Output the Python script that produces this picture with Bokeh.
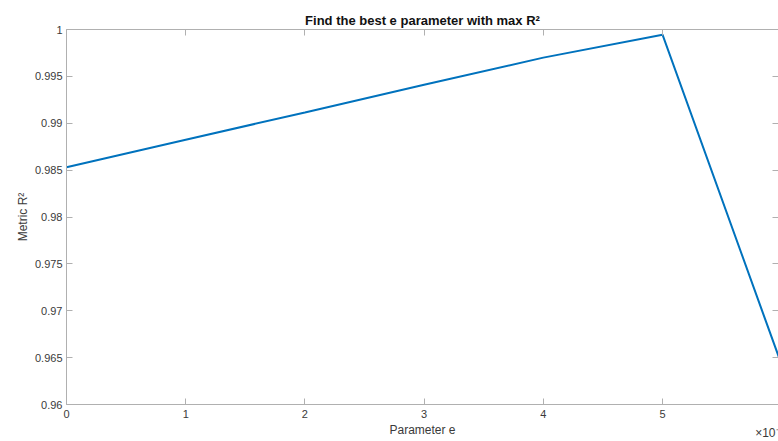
from bokeh.plotting import figure
from bokeh.models import FixedTicker, LinearAxis, Range1d, Title
from bokeh.embed import file_html
from bokeh.resources import INLINE

param_e = [0, 1, 2, 3, 4, 5, 6]
metric_r2 = [0.98530, 0.98825, 0.99115, 0.99410, 0.99700, 0.99945, 0.96420]
x_ticks = [0, 1, 2, 3, 4, 5, 6]
y_ticks = [0.96, 0.965, 0.97, 0.975, 0.98, 0.985, 0.99, 0.995, 1.0]
y_tick_labels = ["0.96", "0.965", "0.97", "0.975", "0.98", "0.985", "0.99", "0.995", "1"]
exponent_label = "×10⁻³\n "

FONT = "Liberation Sans"
TXT = "#3a3a3a"
AX = "#b0b0b0"

p = figure(width=778, height=441, output_backend="svg", toolbar_location=None,
           x_range=Range1d(0, 5.973), y_range=Range1d(0.96, 1.0),
           min_border_left=66, min_border_right=0, min_border_top=29, min_border_bottom=36,
           title="Find the best e parameter with max R²")
p.title.align = "center"
p.title.text_font = FONT
p.title.text_font_size = "13px"
p.title.text_font_style = "bold"
p.title.text_color = "#111111"
p.title.offset = 0
p.title.standoff = 3
p.outline_line_color = None
p.xgrid.visible = False
p.ygrid.visible = False

p.line(param_e, metric_r2, line_color="#0072BD", line_width=2)

def style(ax, labels=True):
    ax.axis_line_color = AX
    ax.major_tick_line_color = AX
    ax.minor_tick_line_color = None
    ax.major_tick_in = 6
    ax.major_tick_out = 0
    ax.major_label_text_font = FONT
    ax.major_label_text_font_size = "11px"
    ax.major_label_text_color = TXT
    ax.axis_label_text_font = FONT
    ax.axis_label_text_font_size = "12px"
    ax.axis_label_text_font_style = "normal"
    ax.axis_label_text_color = TXT
    if not labels:
        ax.major_label_text_color = None
        ax.major_label_standoff = 0

xa = p.xaxis[0]
xa.ticker = FixedTicker(ticks=x_ticks)
xa.axis_label = "Parameter e"
xa.axis_label_standoff = 2
xa.major_label_standoff = 5
style(xa)

ya = p.yaxis[0]
ya.ticker = FixedTicker(ticks=y_ticks)
ya.major_label_overrides = {t: l for t, l in zip(y_ticks, y_tick_labels)}
ya.axis_label = "Metric R²"
ya.axis_label_standoff = 2
ya.major_label_standoff = 4
style(ya)

top = LinearAxis(ticker=FixedTicker(ticks=x_ticks))
style(top, labels=False)
p.add_layout(top, "above")
right = LinearAxis(ticker=FixedTicker(ticks=y_ticks))
style(right, labels=False)
p.add_layout(right, "right")

exp_title = Title(text=exponent_label, align="right", vertical_align="top",
                  text_font=FONT, text_font_size="12px",
                  text_font_style="normal", text_color=TXT, standoff=-28, offset=-5)
p.add_layout(exp_title, "below")

open("out.html", "w").write(file_html(p, INLINE))
